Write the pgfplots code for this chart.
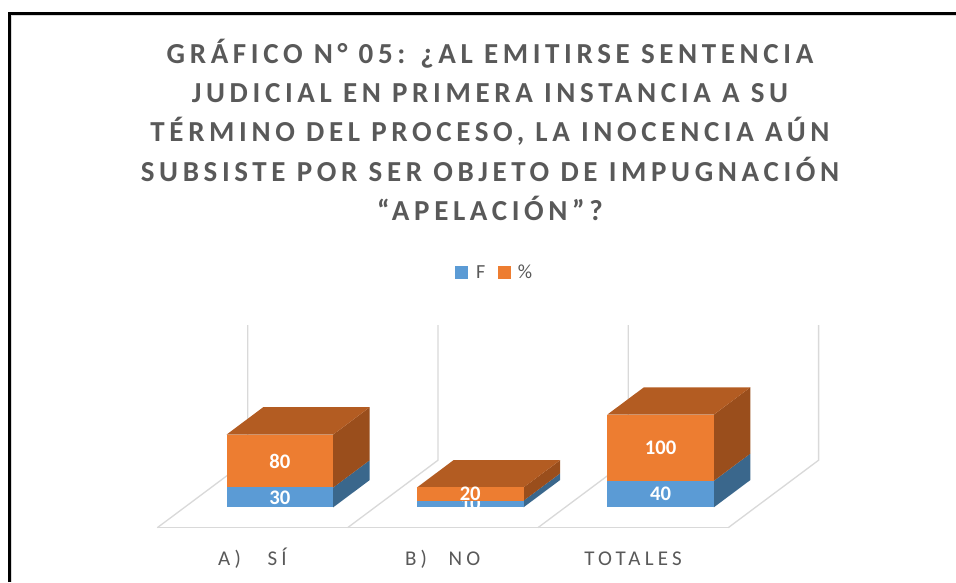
\documentclass[border=0pt]{standalone}
\usepackage{pgfplots}
\pgfplotsset{compat=1.18}
\usepackage{fontspec}
\setmainfont{Carlito}
\newfontfamily\spaced[LetterSpace=20]{Carlito}
\newfontfamily\titlespaced[LetterSpace=16]{Carlito}
\definecolor{tgray}{HTML}{595959}
\definecolor{bfront}{HTML}{5B9BD5}
\definecolor{bside}{HTML}{3A678C}
\definecolor{ofront}{HTML}{ED7D31}
\definecolor{otop}{HTML}{B35C22}
\definecolor{oside}{HTML}{9A4E1C}
\definecolor{gridc}{HTML}{D9D9D9}
\begin{document}
\begin{tikzpicture}
\path[use as bounding box] (0pt,0pt) rectangle (573.6pt,-349.2pt);
% frame
\draw[gridc, line width=0.5pt] (7.0pt,-349.2pt) -- (7.0pt,-9.4pt) -- (573.6pt,-9.4pt);
\draw[black, line width=1.5pt] (5.6pt,-349.2pt) -- (5.6pt,-8pt) -- (573.6pt,-8pt);
% title
\begin{scope}[every node/.style={inner sep=0pt, anchor=base, text=tgray, font=\titlespaced\bfseries\fontsize{17.4}{20}\selectfont}]
\node at (294pt,-37.98pt) {GRÁFICO N° 05: ¿AL EMITIRSE SENTENCIA};
\node at (294pt,-61.56pt) {JUDICIAL EN PRIMERA INSTANCIA A SU};
\node at (294pt,-85.14pt) {TÉRMINO DEL PROCESO, LA INOCENCIA AÚN};
\node at (294pt,-108.72pt) {SUBSISTE POR SER OBJETO DE IMPUGNACIÓN};
\node at (294pt,-132.3pt) {“APELACIÓN”?};
\end{scope}
% legend
\fill[bfront] (273pt,-159.4pt) rectangle ++(7.8pt,-7.8pt);
\node[inner sep=0pt, anchor=base west, text=tgray, font=\fontsize{12}{13}\selectfont] at (285.4pt,-167.3pt) {F};
\fill[ofront] (298.8pt,-159.4pt) rectangle ++(7.8pt,-7.8pt);
\node[inner sep=0pt, anchor=base west, text=tgray, font=\fontsize{12}{13}\selectfont] at (310.5pt,-167.3pt) {\%};

\begin{axis}[
  at={(94.38pt,-316.62pt)}, anchor=origin,
  x={(114.18pt,0pt)}, y={(54.24pt,40.5pt)}, z={(0pt,0.3972pt)},
  xmin=0, xmax=3, ymin=0, ymax=1, zmin=0, zmax=204,
  hide axis, clip=false,
  every axis plot/.append style={no marks},
]
% floor and walls
\addplot3[gridc, line width=0.8pt] coordinates {(0,0,0) (3,0,0)};
\addplot3[gridc, line width=0.8pt] coordinates {(0,0,0) (0,1,0) (0,1,204)};
\addplot3[gridc, line width=0.8pt] coordinates {(1,0,0) (1,1,0) (1,1,204)};
\addplot3[gridc, line width=0.8pt] coordinates {(2,0,0) (2,1,0) (2,1,204)};
\addplot3[gridc, line width=0.8pt] coordinates {(3,0,0) (3,1,0) (3,1,204)};

% ---- A) SÍ : F=30, %=80
\addplot3[draw=none, fill=bside] coordinates {(0.781,0.302,0) (0.781,0.706,0) (0.781,0.706,30) (0.781,0.302,30)};
\addplot3[draw=none, fill=bfront] coordinates {(0.221,0.302,0) (0.781,0.302,0) (0.781,0.302,30) (0.221,0.302,30)};
\node[text=white, font=\bfseries\fontsize{12.4}{14}\selectfont, inner sep=0pt] at (axis cs:0.501,0.302,15) {30};
\addplot3[draw=none, fill=oside] coordinates {(0.781,0.302,30) (0.781,0.706,30) (0.781,0.706,110) (0.781,0.302,110)};
\addplot3[draw=none, fill=otop] coordinates {(0.221,0.302,110) (0.781,0.302,110) (0.781,0.706,110) (0.221,0.706,110)};
\addplot3[draw=none, fill=ofront] coordinates {(0.221,0.302,30) (0.781,0.302,30) (0.781,0.302,110) (0.221,0.302,110)};
\node[text=white, font=\bfseries\fontsize{12.4}{14}\selectfont, inner sep=0pt] at (axis cs:0.501,0.302,70) {80};

% ---- B) NO : F=10, %=20
\addplot3[draw=none, fill=bside] coordinates {(1.781,0.302,0) (1.781,0.706,0) (1.781,0.706,10) (1.781,0.302,10)};
\addplot3[draw=none, fill=bfront] coordinates {(1.221,0.302,0) (1.781,0.302,0) (1.781,0.302,10) (1.221,0.302,10)};
\node[text=white, font=\bfseries\fontsize{12.4}{14}\selectfont, inner sep=0pt] at (axis cs:1.501,0.302,5) {10};
\addplot3[draw=none, fill=oside] coordinates {(1.781,0.302,10) (1.781,0.706,10) (1.781,0.706,30) (1.781,0.302,30)};
\addplot3[draw=none, fill=otop] coordinates {(1.221,0.302,30) (1.781,0.302,30) (1.781,0.706,30) (1.221,0.706,30)};
\addplot3[draw=none, fill=ofront] coordinates {(1.221,0.302,10) (1.781,0.302,10) (1.781,0.302,30) (1.221,0.302,30)};
\node[text=white, font=\bfseries\fontsize{12.4}{14}\selectfont, inner sep=0pt] at (axis cs:1.501,0.302,20) {20};

% ---- TOTALES : F=40, %=100
\addplot3[draw=none, fill=bside] coordinates {(2.781,0.302,0) (2.781,0.706,0) (2.781,0.706,40) (2.781,0.302,40)};
\addplot3[draw=none, fill=bfront] coordinates {(2.221,0.302,0) (2.781,0.302,0) (2.781,0.302,40) (2.221,0.302,40)};
\node[text=white, font=\bfseries\fontsize{12.4}{14}\selectfont, inner sep=0pt] at (axis cs:2.501,0.302,20) {40};
\addplot3[draw=none, fill=oside] coordinates {(2.781,0.302,40) (2.781,0.706,40) (2.781,0.706,140) (2.781,0.302,140)};
\addplot3[draw=none, fill=otop] coordinates {(2.221,0.302,140) (2.781,0.302,140) (2.781,0.706,140) (2.221,0.706,140)};
\addplot3[draw=none, fill=ofront] coordinates {(2.221,0.302,40) (2.781,0.302,40) (2.781,0.302,140) (2.221,0.302,140)};
\node[text=white, font=\bfseries\fontsize{12.4}{14}\selectfont, inner sep=0pt] at (axis cs:2.501,0.302,90) {100};

% category labels
\node[anchor=base, inner sep=0pt, yshift=-22.8pt, text=tgray, font=\spaced\fontsize{12.6}{14}\selectfont] at (axis cs:0.5,0,0) {A)\hspace{16pt}SÍ};
\node[anchor=base, inner sep=0pt, yshift=-22.8pt, text=tgray, font=\spaced\fontsize{12.6}{14}\selectfont] at (axis cs:1.5,0,0) {B)\hspace{13pt}NO};
\node[anchor=base, inner sep=0pt, yshift=-22.8pt, text=tgray, font=\spaced\fontsize{12.6}{14}\selectfont] at (axis cs:2.5,0,0) {TOTALES};
\end{axis}
\end{tikzpicture}
\end{document}
